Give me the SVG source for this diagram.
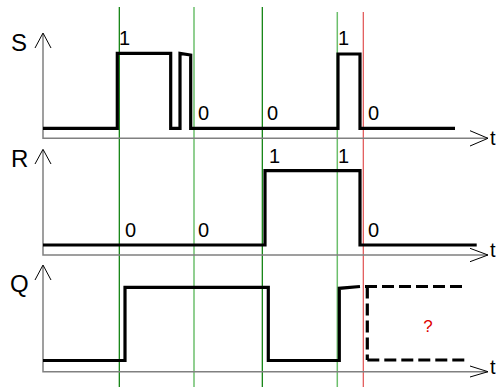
<svg xmlns="http://www.w3.org/2000/svg" width="503" height="387" viewBox="0 0 503 387">
<style>
.axis{stroke:#808080;stroke-width:1.5;fill:none}
.head{stroke:#000;stroke-width:1;fill:none}
.wave{stroke:#000;stroke-width:3.2;fill:none;stroke-linejoin:miter}
.dash{stroke:#000;stroke-width:3.2;fill:none;stroke-dasharray:12 5}
.lbl{font-family:"Liberation Sans",Arial,sans-serif;font-size:24px;fill:#000}
.t{font-family:"Liberation Sans",Arial,sans-serif;font-size:20px;fill:#000}
.num{font-family:"Liberation Sans",Arial,sans-serif;font-size:20px;fill:#000}
.q{font-family:"Liberation Sans",Arial,sans-serif;font-size:17px;fill:#e00000;text-anchor:middle}
</style>
<rect width="503" height="387" fill="#fff"/>
<g id="markers">
<line x1="119.3" y1="7" x2="119.3" y2="387" stroke="#007a00" stroke-width="1.2"/>
<line x1="194" y1="7" x2="194" y2="387" stroke="#6cbf6c" stroke-width="1.5"/>
<line x1="262.3" y1="7" x2="262.3" y2="387" stroke="#007a00" stroke-width="1.2"/>
<line x1="337.3" y1="12" x2="337.3" y2="387" stroke="#6cbf6c" stroke-width="1.5"/>
<line x1="363.3" y1="12" x2="363.3" y2="387" stroke="#e05050" stroke-width="1.2"/>
</g>
<g id="S">
<text class="lbl" x="11" y="51">S</text>
<path class="axis" d="M43,34 V138.3 H488"/>
<path class="head" d="M35,48 L43,33 L51,48"/>
<path class="head" d="M470,130.7 L488,138.3 L470,146"/>
<text class="t" x="490" y="145">t</text>
<path class="wave" d="M43,128.3 H117.3 V53.3 H170.7 V128.3 H180 V53.3 L190.7,55 V128.3 H338 V54 H360 V128.3 H455"/>
<text class="num" x="119" y="45">1</text>
<text class="num" x="198" y="120">0</text>
<text class="num" x="267" y="120">0</text>
<text class="num" x="338" y="45">1</text>
<text class="num" x="368" y="120">0</text>
</g>
<g id="R">
<text class="lbl" x="11" y="166.7">R</text>
<path class="axis" d="M43,150 V255 H488"/>
<path class="head" d="M35,164 L43,149.3 L51,164"/>
<path class="head" d="M470,248.3 L488,255 L470,261.7"/>
<text class="t" x="490" y="256.7">t</text>
<path class="wave" d="M43,245 H265 V170.7 H360 V245 H476.7"/>
<text class="num" x="125" y="236.7">0</text>
<text class="num" x="198" y="236.7">0</text>
<text class="num" x="269" y="162.7">1</text>
<text class="num" x="338" y="162.7">1</text>
<text class="num" x="368" y="236.7">0</text>
</g>
<g id="Q">
<text class="lbl" x="10" y="292">Q</text>
<path class="axis" d="M43,266 V371.7 H488"/>
<path class="head" d="M35,280 L43,265 L51,280"/>
<path class="head" d="M470,366 L488,371.7 L470,377"/>
<text class="t" x="490" y="374">t</text>
<path class="wave" d="M43,360.5 H125 V287.3 H268.3 V360.5 H339.3 V288.3 L360,286.5"/>
<path class="dash" d="M365,286.5 H467"/>
<path class="dash" d="M367.3,286.5 V360"/>
<path class="dash" d="M367.3,360 H467"/>
<text class="q" x="428" y="332">?</text>
</g>
</svg>
